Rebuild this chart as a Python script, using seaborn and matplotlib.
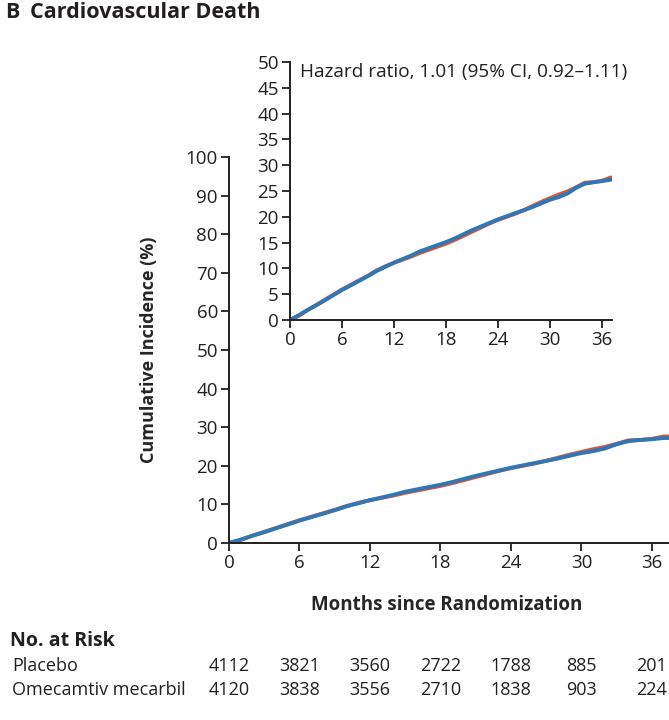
import pandas as pd
import seaborn as sns
import matplotlib.pyplot as plt

months = [0, 1, 2, 3, 4, 5, 6, 7, 8, 9, 10, 11, 12, 13, 14, 15, 16, 17, 18,
          19, 20, 21, 22, 23, 24, 25, 26, 27, 28, 29, 30, 31, 32, 33, 34, 35,
          36, 37, 37.4]
placebo = [0, 0.8, 1.9, 2.9, 3.9, 4.9, 5.9, 6.8, 7.7, 8.6, 9.6, 10.4, 11.1,
           11.7, 12.3, 13.0, 13.6, 14.2, 14.8, 15.5, 16.3, 17.1, 17.9, 18.7,
           19.4, 20.0, 20.6, 21.3, 22.1, 22.9, 23.6, 24.3, 24.9, 25.7, 26.6,
           26.7, 27.0, 27.6, 27.6]
omecamtiv = [0, 0.9, 1.9, 2.8, 3.8, 4.8, 5.8, 6.7, 7.6, 8.5, 9.5, 10.3, 11.1,
             11.8, 12.5, 13.3, 13.9, 14.5, 15.1, 15.8, 16.6, 17.4, 18.1, 18.8,
             19.5, 20.1, 20.7, 21.3, 21.9, 22.6, 23.3, 23.8, 24.5, 25.6, 26.4,
             26.7, 26.9, 27.2, 27.2]

risk_months = [0, 6, 12, 18, 24, 30, 36]
risk_placebo = [4112, 3821, 3560, 2722, 1788, 885, 201]
risk_omecamtiv = [4120, 3838, 3556, 2710, 1838, 903, 224]

groups = ['Placebo', 'Omecamtiv mecarbil']
colors = {'Placebo': '#d9553d', 'Omecamtiv mecarbil': '#2f78b5'}
ink = '#231f20'

df = pd.concat([
    pd.DataFrame({'month': months, 'pct': placebo, 'group': 'Placebo'}),
    pd.DataFrame({'month': months, 'pct': omecamtiv, 'group': 'Omecamtiv mecarbil'}),
])

sns.set_theme(style='ticks')
plt.rcParams['font.family'] = ['Open Sans', 'DejaVu Sans']
plt.rcParams['text.color'] = ink
plt.rcParams['axes.edgecolor'] = ink
plt.rcParams['xtick.color'] = ink
plt.rcParams['ytick.color'] = ink
plt.rcParams['axes.linewidth'] = 1.4

fig = plt.figure(figsize=(6.69, 7.2), dpi=100)


def style_axis(ax, xmax, ymax, ystep):
    sns.despine(ax=ax)
    ax.set_xlim(0, xmax)
    ax.set_ylim(0, ymax)
    ax.set_xticks(range(0, 37, 6))
    ax.set_yticks(range(0, ymax + 1, ystep))
    ax.tick_params(length=6, width=1.3, labelsize=13.5, pad=2)
    ax.spines['left'].set_bounds(0, ymax)
    ax.set_xlabel('')
    ax.set_ylabel('')
    for s in ax.spines.values():
        s.set_clip_on(False)


# main plot
ax = fig.add_axes([0.3423, 0.2458, 0.6577, 0.5361])
sns.lineplot(data=df, x='month', y='pct', hue='group', hue_order=groups,
             palette=colors, linewidth=2.8, legend=False, ax=ax)
style_axis(ax, 37.45, 100, 10)
ax.set_ylabel('Cumulative Incidence (%)', fontsize=13, fontweight='bold', labelpad=20)
ax.set_xlabel('Months since Randomization', fontsize=13.5, fontweight='bold')
ax.xaxis.set_label_coords(0.495, -0.135)

# inset
ins = fig.add_axes([0.4335, 0.5556, 0.4813, 0.3583])
sns.lineplot(data=df, x='month', y='pct', hue='group', hue_order=groups,
             palette=colors, linewidth=2.8, legend=False, ax=ins)
style_axis(ins, 37.15, 50, 5)
ins.patch.set_alpha(0)
ins.text(0.03, 0.995, 'Hazard ratio, 1.01 (95% CI, 0.92\u20131.11)',
         transform=ins.transAxes, fontsize=13.7, va='top', ha='left')

fig.text(0.007, 0.997, 'B', fontsize=15.5, fontweight='bold', va='top')
fig.text(0.045, 0.997, 'Cardiovascular Death', fontsize=15.5, fontweight='bold', va='top')

# number at risk
fig.text(0.015, 0.110, 'No. at Risk', fontsize=14, fontweight='bold', va='center')
row_y = [0.075, 0.042]
for name, counts, y in zip(groups, [risk_placebo, risk_omecamtiv], row_y):
    fig.text(0.018, y, name, fontsize=13, va='center')
    ay = (y - 0.2458) / 0.5361
    for m, n in zip(risk_months, counts):
        ax.text(m, ay, str(n), fontsize=13, ha='center', va='center',
                transform=ax.get_xaxis_transform(), clip_on=False)

fig.savefig('out.png', dpi=100)
